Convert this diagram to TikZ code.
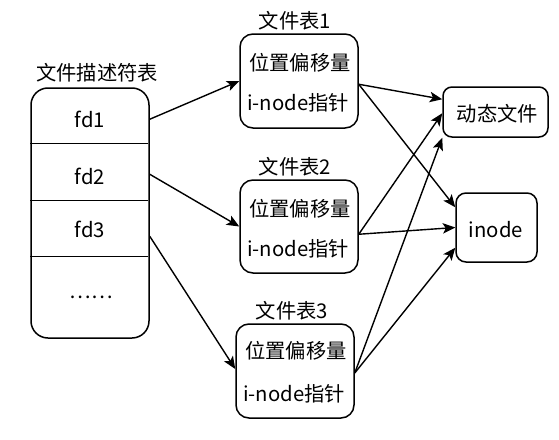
\documentclass[tikz,border=0pt]{standalone}
\usepackage{fontspec}
\setmainfont{Noto Sans CJK SC}
\usetikzlibrary{arrows.meta,calc}
\begin{document}
\begin{tikzpicture}[x=1pt,y=-1pt,
  box/.style={draw, line width=1.5pt, rounded corners=#1, inner sep=0pt, fill=white},
  txt/.style={anchor=base, inner sep=0pt, font=\fontsize{20.3pt}{24pt}\selectfont},
  arr/.style={line width=1.4pt, -{Stealth[length=12.5pt,width=10.5pt,inset=3pt]}},
  divider/.style={line width=1.5pt}
]
\useasboundingbox (0,0) rectangle (559,439);
\fill[white] (0,0) rectangle (559,439);

% descriptor table
\node[box=17pt, minimum width=118pt, minimum height=250pt] (fdtab) at (90,213) {};
\draw[divider] ($(fdtab.north west)+(0,56)$) -- ($(fdtab.north east)+(-2,56)$);
\draw[divider] ($(fdtab.north west)+(0,113)$) -- ($(fdtab.north east)+(-2,113)$);
\draw[divider] ($(fdtab.north west)+(0,169)$) -- ($(fdtab.north east)+(-2,169)$);
\node[txt] (fdtitle) at (97,80) {文件描述符表};
\node[txt] (fd1) at (90,127) {fd1};
\node[txt] (fd2) at (90,184) {fd2};
\node[txt] (fd3) at (90,237) {fd3};
\node[txt] (dots) at (91,298) {……};

% file tables
\node[box=13pt, minimum width=118pt, minimum height=94pt] (t1) at (299,81) {};
\node[txt] (t1title) at (295,28) {文件表1};
\node[txt] (t1a) at (300,70) {位置偏移量};
\node[txt] (t1b) at (298,110) {i-node指针};

\node[box=13pt, minimum width=118pt, minimum height=93pt] (t2) at (299,226.5) {};
\node[txt] (t2title) at (295,174) {文件表2};
\node[txt] (t2a) at (300,216) {位置偏移量};
\node[txt] (t2b) at (298,256) {i-node指针};

\node[box=13pt, minimum width=118pt, minimum height=94pt] (t3) at (295,371) {};
\node[txt] (t3title) at (292,318) {文件表3};
\node[txt] (t3a) at (296,358) {位置偏移量};
\node[txt] (t3b) at (294,401) {i-node指针};

% targets
\node[box=9pt, minimum width=105pt, minimum height=50pt] (dyn) at (495.5,112) {};
\node[txt] (dyntxt) at (497.5,121) {动态文件};
\node[box=10pt, minimum width=81pt, minimum height=69pt] (ino) at (496.5,227.5) {};
\node[txt] (inotxt) at (496,237) {inode};

% arrows from descriptors
\draw[arr] ($(fdtab.north east)+(0,32)$) -- (t1.west);
\draw[arr] ($(fdtab.north east)+(0,87)$) -- (t2.west);
\draw[arr] ($(fdtab.north east)+(0,149)$) -- ($(t3.west)+(0,-2)$);

% arrows from file tables
\draw[arr] ($(t1.north east)+(0,51)$) -- ($(dyn.north west)+(0,13)$);
\draw[arr] ($(t1.north east)+(0,51)$) -- ($(ino.north west)+(0,15)$);
\draw[arr] ($(t2.north east)+(0,55)$) -- ($(dyn.north west)+(0,27)$);
\draw[arr] ($(t2.north east)+(0,55)$) -- (ino.west);
\draw[arr] ($(t3.east)+(0,2)$) -- (dyn.south west);
\draw[arr] ($(t3.east)+(0,2)$) -- ($(ino.south west)+(0,-15)$);
\end{tikzpicture}
\end{document}
